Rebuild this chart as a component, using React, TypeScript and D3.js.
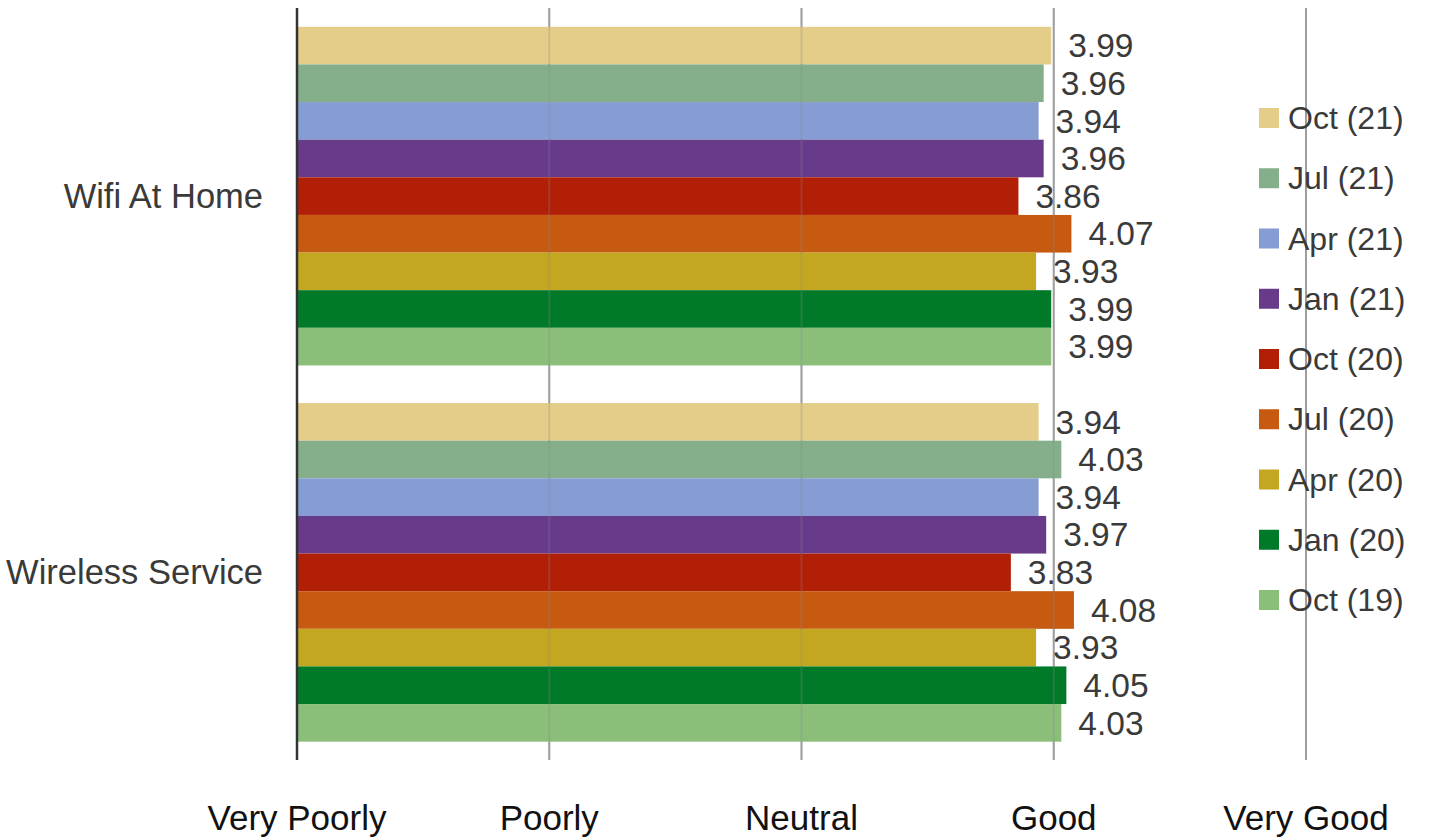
import React from "react";
import * as d3 from "d3";

const categories = ["Wifi At Home", "Wireless Service"];
const seriesNames = ["Oct (21)", "Jul (21)", "Apr (21)", "Jan (21)", "Oct (20)", "Jul (20)", "Apr (20)", "Jan (20)", "Oct (19)"];
const seriesColors = ["#E3CD88", "#84AF8A", "#869DD3", "#673A8A", "#B11F07", "#C65A10", "#C4A720", "#007A28", "#8ABE79"];
const wifiValues = [3.99, 3.96, 3.94, 3.96, 3.86, 4.07, 3.93, 3.99, 3.99];
const wirelessValues = [3.94, 4.03, 3.94, 3.97, 3.83, 4.08, 3.93, 4.05, 4.03];
const tickValues = [1, 2, 3, 4, 5];
const tickLabels = ["Very Poorly", "Poorly", "Neutral", "Good", "Very Good"];

const W = 1430;
const H = 837;
const FONT = "'Liberation Sans', Arial, sans-serif";
const TEXT = "#3a3a3a";

export default function App() {
  const values = [wifiValues, wirelessValues];
  const x = d3.scaleLinear().domain([1, 5]).range([297, 1306]);
  const y0 = d3.scaleBand<string>().domain(categories).range([8, 760.5]).paddingInner(0.1).paddingOuter(0.05);
  const y1 = d3.scaleBand<string>().domain(seriesNames).range([0, y0.bandwidth()]).padding(0);
  const legendY = d3.scalePoint<string>().domain(seriesNames).range([118, 600]);
  const yTop = 8;
  const yBottom = 760;

  return (
    <svg width={W} height={H} style={{ position: "absolute", left: 0, top: 0, display: "block", background: "#fff" }} fontFamily={FONT}>
      {tickValues.slice(1).map((t) => (
        <line key={"g" + t} x1={x(t)} x2={x(t)} y1={yTop} y2={yBottom} stroke="#A6A6A6" strokeWidth={2} />
      ))}
      {categories.map((c, ci) => (
        <g key={c} transform={`translate(0,${y0(c)})`}>
          {seriesNames.map((s, si) => (
            <rect key={s} x={x(1)} y={y1(s)} width={x(values[ci][si]) - x(1)} height={y1.bandwidth()} fill={seriesColors[si]} />
          ))}
          {seriesNames.map((s, si) => (
            <text key={"l" + s} x={x(values[ci][si]) + 17} y={(y1(s) as number) + y1.bandwidth() / 2} dy="0.35em" fontSize={33.5} fill={TEXT}>
              {values[ci][si].toFixed(2)}
            </text>
          ))}
        </g>
      ))}
      {tickValues.slice(1).map((t) => (
        <line key={"go" + t} x1={x(t)} x2={x(t)} y1={yTop} y2={yBottom} stroke="#8a8a8a" strokeWidth={2} opacity={0.25} />
      ))}
      <line x1={x(1)} x2={x(1)} y1={yTop} y2={yBottom} stroke="#333" strokeWidth={2.5} />
      {categories.map((c) => (
        <text key={"c" + c} x={263} y={(y0(c) as number) + y0.bandwidth() / 2} dy="0.35em" textAnchor="end" fontSize={34.5} fill={TEXT}>
          {c}
        </text>
      ))}
      {tickValues.map((t, i) => (
        <text key={"t" + t} x={x(t)} y={818} dy="0.35em" textAnchor="middle" fontSize={35} fill="#111">
          {tickLabels[i]}
        </text>
      ))}
      {seriesNames.map((s, si) => (
        <g key={"lg" + s} transform={`translate(0,${legendY(s)})`}>
          <rect x={1259} y={-10} width={20} height={20} fill={seriesColors[si]} />
          <text x={1288} y={0} dy="0.35em" fontSize={32} fill={TEXT}>
            {s}
          </text>
        </g>
      ))}
    </svg>
  );
}
